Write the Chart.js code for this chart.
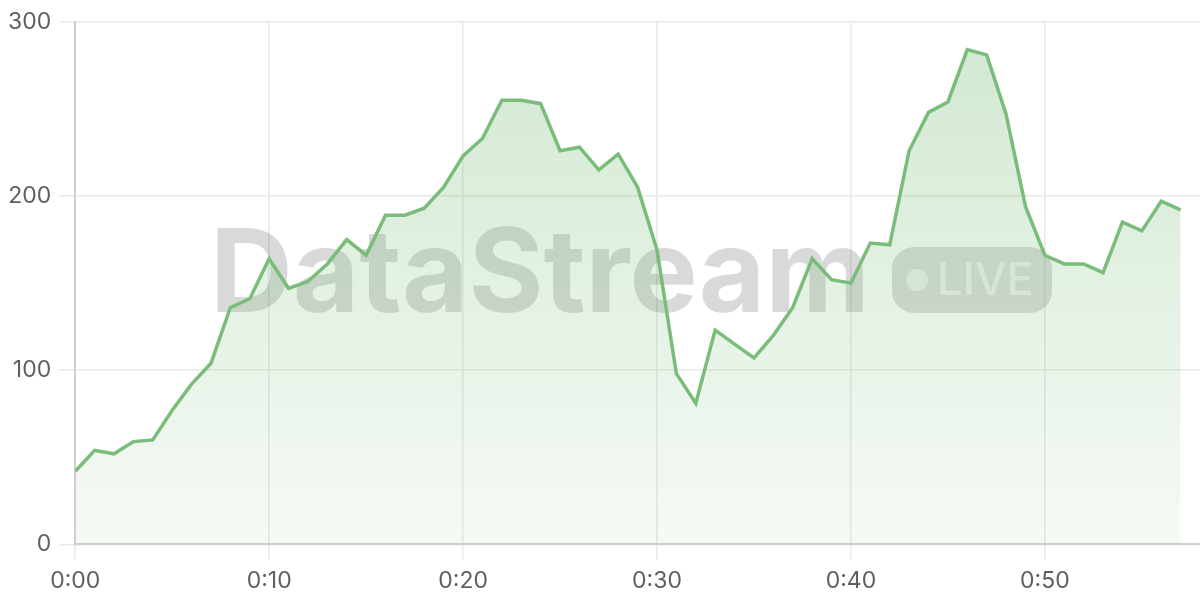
<!DOCTYPE html>
<html>
<head>
<meta charset="utf-8">
<script src="https://cdn.jsdelivr.net/npm/chart.js@4/dist/chart.umd.min.js"></script>
<style>
  html, body { margin: 0; padding: 0; background: #fff; }
  #wrap { width: 1200px; height: 600px; }
</style>
</head>
<body>
<div id="wrap"><canvas id="chart" width="1200" height="600"></canvas></div>
<script>
// Minutes since start (x) and values (y)
const minutes = [0, 1, 2, 3, 4, 5, 6, 7, 8, 9, 10, 11, 12, 13, 14, 15, 16, 17, 18, 19,
  20, 21, 22, 23, 24, 25, 26, 27, 28, 29, 30, 31, 32, 33, 34, 35, 36, 37, 38, 39,
  40, 41, 42, 43, 44, 45, 46, 47, 48, 49, 50, 51, 52, 53, 54, 55, 56, 57];
const values = [42, 54, 52, 59, 60, 77, 92, 104, 136, 141, 164, 147, 151, 161, 175, 166, 189, 189, 193, 205,
  223, 233, 255, 255, 253, 226, 228, 215, 224, 205, 169, 98, 81, 123, 115, 107, 120, 136, 164, 152,
  150, 173, 172, 226, 248, 254, 284, 281, 247, 194, 166, 161, 161, 156, 185, 180, 197, 192];
const yTicks = [0, 100, 200, 300];
const watermarkText = 'DataStream';
const badgeText = 'LIVE';

const LINE = 'rgb(122, 189, 122)';
const FONT = 'Inter, "Liberation Sans", sans-serif';

// Watermark behind the line
const watermark = {
  id: 'watermark',
  beforeDatasetsDraw(chart) {
    const { ctx } = chart;
    ctx.save();
    ctx.font = 'bold 116px ' + FONT;
    ctx.textBaseline = 'alphabetic';
    const w = ctx.measureText(watermarkText).width;
    ctx.fillStyle = 'rgba(0, 0, 0, 0.15)';
    ctx.save();
    ctx.translate(210, 312);
    ctx.scale(660 / w, 1);
    ctx.fillText(watermarkText, 0, 0);
    ctx.restore();

    // badge
    ctx.beginPath();
    ctx.roundRect(892, 247, 160, 66, 22);
    ctx.fillStyle = 'rgba(0, 0, 0, 0.14)';
    ctx.fill();
    ctx.fillStyle = 'rgba(255, 255, 255, 0.55)';
    ctx.beginPath();
    ctx.arc(917, 280, 11, 0, Math.PI * 2);
    ctx.fill();
    ctx.font = '500 45px ' + FONT;
    ctx.fillText(badgeText, 937, 295);
    ctx.restore();
  },
};

const ctx = document.getElementById('chart').getContext('2d');

const fillGradient = (context) => {
  const { chart } = context;
  const area = chart.chartArea;
  if (!area) return 'rgba(122, 189, 122, 0.2)';
  const g = chart.ctx.createLinearGradient(0, area.top, 0, area.bottom);
  g.addColorStop(0, 'rgba(122, 189, 122, 0.35)');
  g.addColorStop(1, 'rgba(122, 189, 122, 0.07)');
  return g;
};

new Chart(ctx, {
  type: 'line',
  data: {
    datasets: [{
      data: minutes.map((m, i) => ({ x: m, y: values[i] })),
      borderColor: LINE,
      backgroundColor: fillGradient,
      borderWidth: 3.5,
      fill: 'origin',
      tension: 0,
      pointRadius: 0,
    }],
  },
  options: {
    responsive: false,
    animation: false,
    plugins: {
      legend: { display: false },
      tooltip: { enabled: false },
    },
    layout: { padding: { top: 6, right: 0, bottom: -3, left: 0 } },
    scales: {
      x: {
        type: 'linear',
        min: 0,
        max: 58,
        grid: { color: '#e8e8e8', lineWidth: 1.5, tickLength: 15 },
        border: { color: '#cfcfcf', width: 2 },
        ticks: {
          stepSize: 10,
          includeBounds: false,
          color: '#5f5f5f',
          padding: 8,
          font: { family: FONT, size: 23 },
          callback: (v) => '0:' + String(v).padStart(2, '0'),
        },
      },
      y: {
        min: 0,
        max: 300,
        afterBuildTicks: (axis) => { axis.ticks = yTicks.map((v) => ({ value: v })); },
        grid: { color: '#e8e8e8', lineWidth: 1.5, tickLength: 16 },
        border: { color: '#cfcfcf', width: 2 },
        ticks: {
          color: '#5f5f5f',
          padding: 8,
          font: { family: FONT, size: 23 },
        },
      },
    },
  },
  plugins: [watermark],
});
</script>
</body>
</html>
